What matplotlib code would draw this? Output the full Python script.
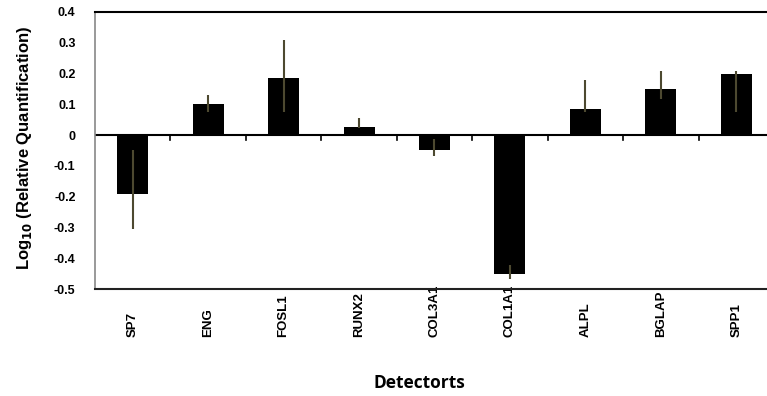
import numpy as np
import matplotlib.pyplot as plt

genes = ['SP7', 'ENG', 'FOSL1', 'RUNX2', 'COL3A1', 'COL1A1', 'ALPL', 'BGLAP', 'SPP1']
log_rq = [-0.19, 0.10, 0.185, 0.027, -0.05, -0.45, 0.085, 0.15, 0.198]
err_low = [0.115, 0.025, 0.11, 0.005, 0.017, 0.017, 0.011, 0.034, 0.124]
err_high = [0.14, 0.03, 0.125, 0.028, 0.038, 0.028, 0.095, 0.058, 0.01]
yticks = [-0.5, -0.4, -0.3, -0.2, -0.1, 0, 0.1, 0.2, 0.3, 0.4]

plt.rcParams['font.family'] = ['Liberation Sans', 'DejaVu Sans']

fig = plt.figure(figsize=(7.67, 3.96), dpi=100)
# plot area runs past the right edge like in the original
ax = fig.add_axes([95/767, 1-289/396, 679/767, 277/396])

x = np.arange(len(genes))
ax.bar(x, log_rq, 0.41, color='black', zorder=2)
ax.errorbar(x, log_rq, yerr=[err_low, err_high], fmt='none',
            ecolor='#4d4930', elinewidth=1.5, capsize=0, zorder=3)

ax.axhline(0, color='black', lw=1.5, zorder=1)
# little ticks on the zero line between categories
for b in x[:-1] + 0.5:
    ax.plot([b, b], [0, -0.017], color='black', lw=1.2, zorder=1)

ax.set_xlim(-0.5, len(genes) - 0.5)
ax.set_ylim(-0.5, 0.4)
ax.set_yticks(yticks)
ax.set_yticklabels(['%g' % t for t in yticks], fontsize=9, fontweight='bold')
ax.tick_params(axis='y', length=0, pad=14)
ax.set_xticks(x)
# labels all end at the same baseline and read upward
ax.set_xticklabels(genes, rotation=90, fontsize=9.5, fontweight='bold',
                   rotation_mode='anchor', ha='left', va='center')
ax.tick_params(axis='x', length=0, pad=34.5)

ax.spines['top'].set_linewidth(1.5)
ax.spines['bottom'].set_linewidth(1.5)
ax.spines['bottom'].set_color('#222222')
ax.spines['left'].set_color('#888888')
ax.spines['left'].set_linewidth(1.2)

ax.set_ylabel('Log$_{\\mathbf{10}}$ (Relative Quantification)', fontsize=12,
              fontweight='bold')
ax.yaxis.set_label_coords(-61/679, 0.51)
fig.text(0.547, 1-383/396, 'Detectorts', fontsize=12.5, fontweight='bold',
         family='Open Sans', ha='center', va='center')

plt.savefig('out.png', dpi=100)
